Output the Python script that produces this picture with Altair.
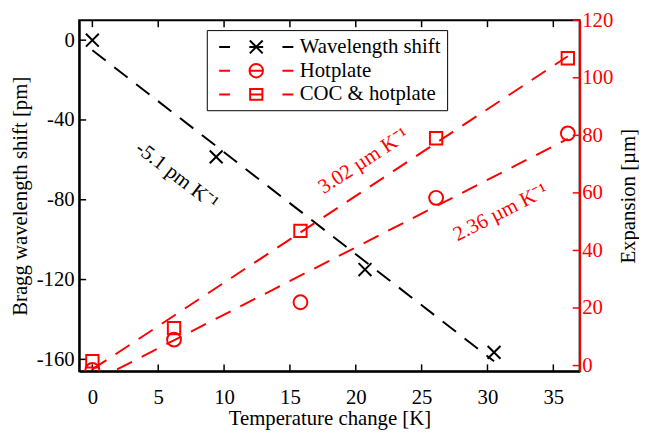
import altair as alt
import pandas as pd

# ---------------- data ----------------
temp_wl = [0, 9.4, 20.7, 30.5]
shift_wl = [0, -58.5, -115, -156.5]

temp_exp = [0, 6.2, 15.8, 26.1, 36.1]
exp_hotplate = [-1.5, 9, 22, 58.3, 80.7]
exp_coc = [1.5, 13, 46.8, 79, 106.8]

series_names = ["Wavelength shift", "Hotplate", "COC & hotplate"]

x_ticks = [0, 5, 10, 15, 20, 25, 30, 35]
left_ticks = [-160, -120, -80, -40, 0]
right_ticks = [0, 20, 40, 60, 80, 100, 120]

ann_left_text = ["-5.1 pm K\u207b\u00b9"]
ann_left_x = [6.4]
ann_left_y = [-68]
ann_right_text = ["3.02 \u00b5m K\u207b\u00b9", "2.36 \u00b5m K\u207b\u00b9"]
ann_right_x = [20.6, 31.0]
ann_right_y = [71.0, 53.1]

# ---------------- style ----------------
W, H = 506, 355
FONT = "Liberation Serif"
RED = "#ff0000"
FS = 21
DASH = [17, 11]
TICK = 7

xscale = alt.Scale(domain=[-1, 37], nice=False, zero=False)
lscale = alt.Scale(domain=[-166, 10], nice=False, zero=False)
rscale = alt.Scale(domain=[-2, 120], nice=False, zero=False)

XPATH = "M-1,-1L1,1M-1,1L1,-1"

df_wl = pd.DataFrame({"T": temp_wl, "S": shift_wl})
df_exp = pd.DataFrame({
    "T": temp_exp + temp_exp,
    "E": exp_hotplate + exp_coc,
    "series": ["Hotplate"] * len(temp_exp) + ["COC & hotplate"] * len(temp_exp),
})
df_xt = pd.DataFrame({"T": x_ticks})
df_lt = pd.DataFrame({"S": left_ticks})
df_rt = pd.DataFrame({"E": right_ticks})
df_annl = pd.DataFrame({"T": ann_left_x, "S": ann_left_y, "t": ann_left_text})
df_annr = pd.DataFrame({"T": ann_right_x, "E": ann_right_y, "t": ann_right_text})
df_leg = pd.DataFrame({"name": series_names})

x_axis = alt.Axis(values=x_ticks, title="Temperature change [K]", grid=False, ticks=False,
                  labelFont=FONT, labelFontSize=FS, labelColor="black", labelPadding=16,
                  titleFont=FONT, titleFontSize=FS, titleFontWeight="normal", titleColor="black",
                  titlePadding=0, domainColor="black", domainWidth=2)
left_axis = alt.Axis(values=left_ticks, title="Bragg wavelength shift [pm]", grid=False, ticks=False,
                     labelExpr="'' + datum.value",
                     labelFont=FONT, labelFontSize=FS, labelColor="black", labelPadding=5,
                     titleFont=FONT, titleFontSize=FS, titleFontWeight="normal", titleColor="black",
                     titlePadding=6, domainColor="black", domainWidth=2)
right_axis = alt.Axis(values=right_ticks, title="Expansion [\u00b5m]", orient="right", grid=False, ticks=False,
                      labelFont=FONT, labelFontSize=FS, labelColor=RED, labelPadding=2,
                      titleFont=FONT, titleFontSize=FS, titleFontWeight="normal", titleColor="black",
                      titleAngle=270, titlePadding=26, domainColor=RED, domainWidth=2)

X = alt.X("T:Q", scale=xscale, axis=x_axis)
YL = alt.Y("S:Q", scale=lscale, axis=left_axis)
YR = alt.Y("E:Q", scale=rscale, axis=right_axis)

# ---------------- left group ----------------
wl_line = alt.Chart(df_wl).transform_regression("T", "S").mark_line(
    color="black", strokeWidth=2, strokeDash=DASH).encode(x=X, y=YL)

wl_pts = alt.Chart(df_wl).mark_point(shape=XPATH, size=169, filled=False, color="black",
                                      strokeWidth=2, opacity=1).encode(x=X, y=YL)

lt = alt.Chart(df_lt).mark_rule(color="black", strokeWidth=1.5).encode(
    y=YL, x=alt.value(0), x2=alt.value(TICK))
bt = alt.Chart(df_xt).mark_rule(color="black", strokeWidth=1.5).encode(
    x=X, y=alt.value(H), y2=alt.value(H - TICK))
tt = alt.Chart(df_xt).mark_rule(color="black", strokeWidth=1.5).encode(
    x=X, y=alt.value(0), y2=alt.value(TICK))

ann_l = alt.Chart(df_annl).mark_text(font=FONT, fontSize=FS, color="black", angle=37.5,
                                     align="center", baseline="middle").encode(
    x=X, y=YL, text="t:N")

left = alt.layer(wl_line, lt, bt, tt, wl_pts, ann_l)

# ---------------- right group ----------------
red_lines = alt.Chart(df_exp).transform_regression("T", "E", groupby=["series"]).mark_line(
    color=RED, strokeWidth=2, strokeDash=DASH, clip=True).encode(
    x=X, y=YR, detail="series:N")

hot_pts = alt.Chart(df_exp).transform_filter(alt.datum.series == "Hotplate").mark_point(
    shape="circle", size=196, filled=False, color=RED, strokeWidth=2, opacity=1, clip=True).encode(
    x=X, y=YR)
coc_pts = alt.Chart(df_exp).transform_filter(alt.datum.series == "COC & hotplate").mark_point(
    shape="square", size=156, filled=False, color=RED, strokeWidth=2, opacity=1, clip=True).encode(
    x=X, y=YR)

rt = alt.Chart(df_rt).mark_rule(color=RED, strokeWidth=1.5).encode(
    y=YR, x=alt.value(W), x2=alt.value(W - TICK))

ann_r = alt.Chart(df_annr).mark_text(font=FONT, fontSize=FS, color=RED,
                                     align="center", baseline="middle").encode(
    x=X, y=YR, text="t:N",
    angle=alt.Angle("T:Q", scale=alt.Scale(domain=[ann_right_x[0], ann_right_x[1]], range=[327, 333]), legend=None))

# legend symbols: dashed line segments with marker in the middle (units of 10 px)
P_WL = ("M-3.75,0H-2.65M-0.7,0H0.7M2.65,0H3.75"
        "M-0.65,-0.65L0.65,0.65M-0.65,0.65L0.65,-0.65")
P_HOT = ("M-3.75,0H-2.65M-0.7,0H0.7M2.65,0H3.75"
         "M0.68,0A0.68,0.68,0,1,1,-0.68,0A0.68,0.68,0,1,1,0.68,0")
P_COC = ("M-3.75,0H-2.65M-0.7,0H0.7M2.65,0H3.75"
         "M-0.62,-0.55H0.62V0.55H-0.62Z")

leg = alt.Legend(title=None, orient="none", legendX=129, legendY=10, direction="vertical",
                 labelFont=FONT, labelFontSize=FS, labelColor="black", labelLimit=400,
                 symbolSize=400, symbolStrokeWidth=2, symbolOpacity=1,
                 symbolFillColor="transparent", symbolOffset=33, labelOffset=33,
                 strokeColor="black", fillColor="white", padding=6, rowPadding=2,
                 cornerRadius=0)

legend_layer = alt.Chart(df_leg).mark_point(filled=False, opacity=0).encode(
    color=alt.Color("name:N", scale=alt.Scale(domain=series_names, range=["black", RED, RED]), legend=leg),
    shape=alt.Shape("name:N", scale=alt.Scale(domain=series_names, range=[P_WL, P_HOT, P_COC]), legend=leg))

right = alt.layer(red_lines, rt, hot_pts, coc_pts, ann_r, legend_layer)

chart = alt.layer(left, right).resolve_scale(y="independent").properties(
    width=W, height=H,
    autosize=alt.AutoSizeParams(type="none"),
    padding={"left": 72, "top": 10, "right": 60, "bottom": 60},
    background="white",
).configure_view(stroke="black", strokeWidth=2).configure_axis(
    labelFont=FONT, titleFont=FONT
).configure_legend(labelFont=FONT).configure_text(font=FONT)

chart.save("out.html", embed_options={"renderer": "svg", "actions": False})
